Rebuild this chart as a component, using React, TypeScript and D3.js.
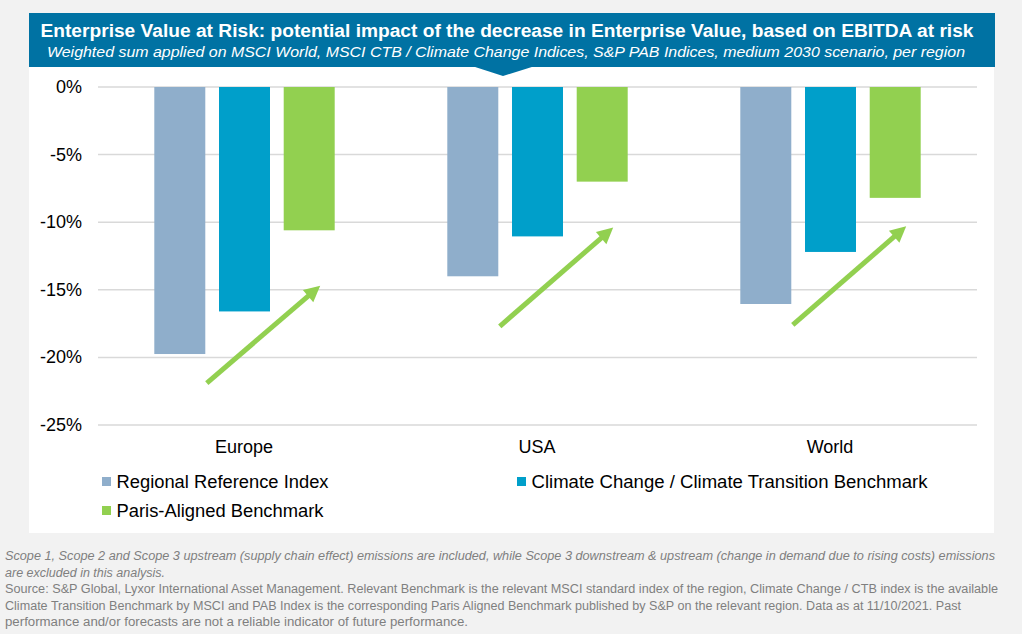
import { useMemo } from "react";
import * as d3 from "d3";

const W = 1022, H = 634;
const MARGIN = { top: 87, left: 98, right: 45, bottom: 209 };

const regions = ["Europe", "USA", "World"];
const series = ["Regional Reference Index", "Climate Change / Climate Transition Benchmark", "Paris-Aligned Benchmark"];
const colors = ["#8faecb", "#009fca", "#92d050"];
const referenceValues = [-19.75, -14.0, -16.05];
const climateValues = [-16.6, -11.05, -12.2];
const parisValues = [-10.6, -7.0, -8.2];
const yTicks = [0, -5, -10, -15, -20, -25];

// arrows drawn under each group (from / to, in %)
const arrowFrom = [-21.9, -17.7, -17.6];
const arrowTo = [-14.7, -10.4, -10.3];

const title = "Enterprise Value at Risk: potential impact of the decrease in Enterprise Value, based on EBITDA at risk";
const subtitle = "Weighted sum applied on MSCI World, MSCI CTB / Climate Change Indices, S&P PAB Indices, medium 2030 scenario, per region";
const notes = [
  { text: "Scope 1, Scope 2 and Scope 3 upstream (supply chain effect) emissions are included, while Scope 3 downstream & upstream (change in demand due to rising costs) emissions", italic: true, len: 990 },
  { text: "are excluded in this analysis.", italic: true, len: 160 },
  { text: "Source: S&P Global, Lyxor International Asset Management. Relevant Benchmark is the relevant MSCI standard index of the region, Climate Change / CTB index is the available", italic: false, len: 993 },
  { text: "Climate Transition Benchmark by MSCI and PAB Index is the corresponding Paris Aligned Benchmark published by S&P on the relevant region. Data as at 11/10/2021. Past", italic: false, len: 956 },
  { text: "performance and/or forecasts are not a reliable indicator of future performance.", italic: false, len: 463 },
];

const NARROW = "'Liberation Sans Narrow', 'Arial Narrow', 'Liberation Sans', Arial, sans-serif";
const SANS = "'Liberation Sans', Arial, sans-serif";

const App = () => {
  const boundsWidth = W - MARGIN.left - MARGIN.right;

  const xScale = useMemo(() => d3.scaleBand().domain(regions).range([MARGIN.left, MARGIN.left + boundsWidth]).padding(0), []);
  const xInner = useMemo(() => d3.scaleBand().domain(series).range([56.3, 236.7]).paddingInner(0.212).paddingOuter(0), []);
  const yScale = useMemo(() => d3.scaleLinear().domain([0, -25]).range([MARGIN.top, MARGIN.top + 338]), []);

  const valuesBySeries = [referenceValues, climateValues, parisValues];

  const grid = yTicks.map((t, i) => (
    <g key={i}>
      <line x1={MARGIN.left} x2={MARGIN.left + boundsWidth} y1={yScale(t)} y2={yScale(t)} stroke="#d9d9d9" strokeWidth={1.5} />
      <text x={82} y={yScale(t) + 6} textAnchor="end" fontSize={18} fontFamily={SANS} fill="#000">{`${t}%`}</text>
    </g>
  ));

  const bars = regions.map((r, ri) => (
    <g key={r}>
      {series.map((s, si) => {
        const v = valuesBySeries[si][ri];
        return (
          <rect key={s} x={(xScale(r) ?? 0) + (xInner(s) ?? 0)} y={yScale(0)} width={xInner.bandwidth()} height={yScale(v) - yScale(0)} fill={colors[si]} />
        );
      })}
      <text x={(xScale(r) ?? 0) + xScale.bandwidth() / 2 - 0.5} y={453} textAnchor="middle" fontSize={18} fontFamily={SANS}>{r}</text>
    </g>
  ));

  const arrows = regions.map((r, ri) => {
    const gx = (xScale(r) ?? 0);
    const x0 = gx + (xInner(series[0]) ?? 0) + xInner.bandwidth() / 2 + 27;
    const x1 = gx + (xInner(series[2]) ?? 0) + xInner.bandwidth() / 2 + 11;
    const y0 = yScale(arrowFrom[ri]);
    const y1 = yScale(arrowTo[ri]);
    const ang = Math.atan2(y1 - y0, x1 - x0);
    const headLen = 16, headW = 8;
    const bx = x1 - headLen * Math.cos(ang), by = y1 - headLen * Math.sin(ang);
    const px = -Math.sin(ang) * headW, py = Math.cos(ang) * headW;
    return (
      <g key={r}>
        <line x1={x0} y1={y0} x2={bx + 2 * Math.cos(ang)} y2={by + 2 * Math.sin(ang)} stroke="#92d050" strokeWidth={5} />
        <path d={`M${x1},${y1} L${bx + px},${by + py} L${bx - px},${by - py} Z`} fill="#92d050" />
      </g>
    );
  });

  const legendPos = [{ x: 102, y: 481, len: 212 }, { x: 517, y: 481, len: 396 }, { x: 102, y: 510, len: 207 }];
  const legend = series.map((s, i) => (
    <g key={s}>
      <rect x={legendPos[i].x} y={legendPos[i].y - 4} width={9} height={9} fill={colors[i]} />
      <text x={legendPos[i].x + 14.5} y={legendPos[i].y + 6.5} fontSize={18.3} fontFamily={SANS} textLength={legendPos[i].len} lengthAdjust="spacingAndGlyphs">{s}</text>
    </g>
  ));

  return (
    <svg width={W} height={H} style={{ position: "absolute", left: 0, top: 0 }}>
      <rect x={0} y={0} width={W} height={H} fill="#f2f2f2" />
      <rect x={29} y={67} width={965} height={466} fill="#ffffff" />
      <rect x={29} y={13} width={966} height={54} fill="#0072a3" />
      <path d="M472,66 L535,66 L503,76 Z" fill="#0072a3" />
      <text x={507} y={37} textAnchor="middle" fontSize={18} fontWeight="bold" fill="#fff" fontFamily={NARROW} textLength={933} lengthAdjust="spacingAndGlyphs">{title}</text>
      <text x={506} y={57} textAnchor="middle" fontSize={15.5} fontStyle="italic" fill="#fff" fontFamily={NARROW} textLength={918} lengthAdjust="spacingAndGlyphs">{subtitle}</text>
      {grid}
      {bars}
      {arrows}
      {legend}
      {notes.map((n, i) => (
        <text key={i} x={5} y={560 + i * 16.6} fontSize={12.5} fill="#7f7f7f" fontStyle={n.italic ? "italic" : "normal"} fontFamily={NARROW} textLength={n.len} lengthAdjust="spacingAndGlyphs">{n.text}</text>
      ))}
    </svg>
  );
};

export default App;
